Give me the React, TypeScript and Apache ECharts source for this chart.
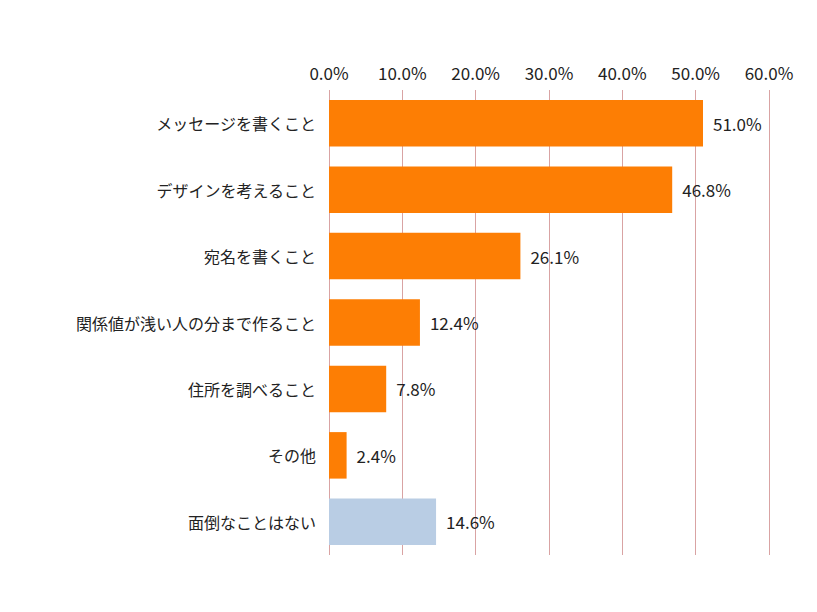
import React, { useEffect, useRef } from "react";
import * as echarts from "echarts";

const categories = [
  "メッセージを書くこと",
  "デザインを考えること",
  "宛名を書くこと",
  "関係値が浅い人の分まで作ること",
  "住所を調べること",
  "その他",
  "面倒なことはない",
];
const values = [51.0, 46.8, 26.1, 12.4, 7.8, 2.4, 14.6];
const barColors = ["#fd7e04", "#fd7e04", "#fd7e04", "#fd7e04", "#fd7e04", "#fd7e04", "#b9cde4"];

export default function App() {
  const ref = useRef<HTMLDivElement>(null);
  useEffect(() => {
    const chart = echarts.init(ref.current!, null, { renderer: "svg" });
    const font = "'Noto Sans CJK JP', 'Noto Sans', sans-serif";
    chart.setOption({
      animation: false,
      backgroundColor: "#ffffff",
      grid: { left: 329, right: 48, top: 90, bottom: 57, containLabel: false },
      xAxis: {
        type: "value",
        position: "top",
        min: 0,
        max: 60,
        interval: 10,
        axisLine: { show: false },
        axisTick: { show: false },
        splitLine: { show: true, lineStyle: { color: "#d9a3a3", width: 1 } },
        axisLabel: {
          formatter: (v: number) => v.toFixed(1) + "%",
          color: "#222",
          fontSize: 17,
          fontFamily: font,
          margin: 9,
        },
      },
      yAxis: {
        type: "category",
        inverse: true,
        data: categories,
        axisLine: { show: false },
        axisTick: { show: false },
        axisLabel: { color: "#222", fontSize: 16, fontFamily: font, margin: 13 },
      },
      series: [
        {
          type: "bar",
          barCategoryGap: "30%",
          data: values.map((v, i) => ({ value: v, itemStyle: { color: barColors[i] } })),
          label: {
            show: true,
            position: "right",
            distance: 10,
            color: "#222",
            fontSize: 17,
            fontFamily: font,
            formatter: (p: any) => p.value.toFixed(1) + "%",
          },
        },
      ],
    });
    return () => chart.dispose();
  }, []);
  return <div ref={ref} style={{ width: 817, height: 612, margin: -8 }} />;
}
